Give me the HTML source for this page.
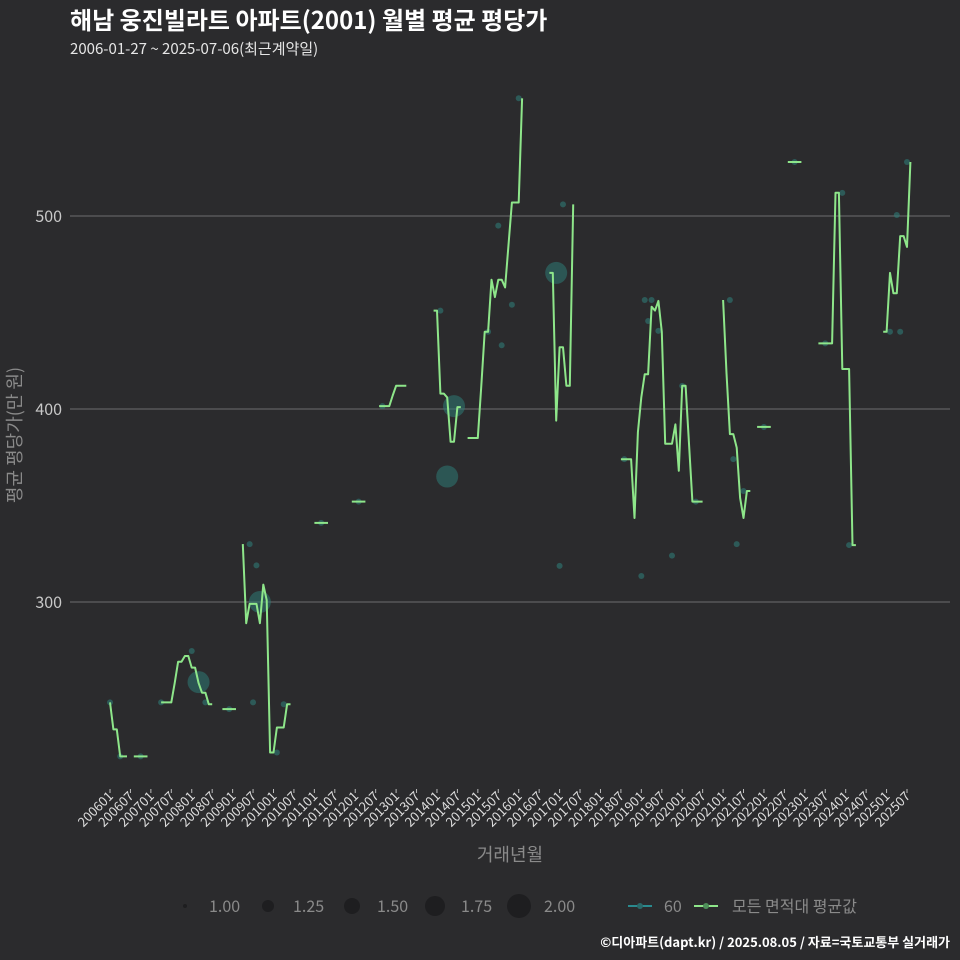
<!DOCTYPE html>
<html><head><meta charset="utf-8"><style>
html,body{margin:0;padding:0;background:#2b2b2d;}
body{position:relative;width:960px;height:960px;overflow:hidden;}
svg{display:block;font-family:"Noto Sans CJK KR","Liberation Sans",sans-serif;}
#ytitle{position:absolute;left:14px;top:435px;width:200px;margin-left:-100px;text-align:center;transform:rotate(-90deg);transform-origin:50% 50%;font-family:"Noto Sans CJK KR","Liberation Sans",sans-serif;font-size:18px;color:#8a8a8a;line-height:20px;margin-top:-10px;white-space:nowrap;}
</style></head><body>
<svg id="chart" width="960" height="960" viewBox="0 0 960 960">
<rect width="960" height="960" fill="#2b2b2d"/>
<text x="70" y="29" font-size="24" font-weight="bold" fill="#ffffff">해남 웅진빌라트 아파트(2001) 월별 평균 평당가</text>
<text x="70" y="54" font-size="15" fill="#e6e6e6">2006-01-27 ~ 2025-07-06(최근계약일)</text>
<text x="510" y="861" text-anchor="middle" font-size="18" fill="#8a8a8a">거래년월</text>
<g id="grid"></g><g id="yticks"></g><g id="xticks"></g><g id="points"></g><g id="lines"></g>
<g font-size="16" fill="#8a8a8a">
 <circle cx="185" cy="906" r="2" fill="#1e1e20"/>
 <text x="209" y="912">1.00</text>
 <circle cx="268" cy="906" r="6" fill="#1e1e20"/>
 <text x="293" y="912">1.25</text>
 <circle cx="352" cy="906" r="8" fill="#1e1e20"/>
 <text x="377" y="912">1.50</text>
 <circle cx="435" cy="906" r="10" fill="#1e1e20"/>
 <text x="461" y="912">1.75</text>
 <circle cx="519" cy="906" r="12" fill="#1e1e20"/>
 <text x="544" y="912">2.00</text>
 <line x1="628" y1="906" x2="652" y2="906" stroke="#2a8a8e" stroke-width="2"/>
 <circle cx="640" cy="906" r="3" fill="#2a6a6a"/>
 <text x="664" y="912">60</text>
 <line x1="694" y1="906" x2="718" y2="906" stroke="#8ee68a" stroke-width="2"/>
 <circle cx="706" cy="906" r="3" fill="#4f8f5a"/>
 <text x="732" y="912">모든 면적대 평균값</text>
</g>
<text x="950" y="947" text-anchor="end" font-size="13" font-weight="bold" fill="#ffffff">©디아파트(dapt.kr) / 2025.08.05 / 자료=국토교통부 실거래가</text>
</svg>
<div id="ytitle">평균 평당가(만 원)</div>
<script>
const yTicks=[300,400,500];
const xTickLabels=["200601","200607","200701","200707","200801","200807","200901","200907","201001","201007","201101","201107","201201","201207","201301","201307","201401","201407","201501","201507","201601","201607","201701","201707","201801","201807","201901","201907","202001","202007","202101","202107","202201","202207","202301","202307","202401","202407","202501","202507"];
// average line: month index from 2006-01 and values; null = gap
const lineMonths=[0,1,2,3,4,5,null,7,8,9,10,11,null,15,16,17,18,19,20,21,22,23,24,25,26,27,28,29,30,null,33,34,35,36,37,null,39,40,41,42,43,44,45,46,47,48,49,50,51,52,53,null,60,61,62,63,64,null,71,72,73,74,75,null,79,80,81,82,83,84,85,86,87,null,95,96,97,98,99,100,101,102,103,null,105,106,107,108,109,110,111,112,113,114,115,116,117,118,119,120,121,null,129,130,131,132,133,134,135,136,null,150,151,152,153,154,155,156,157,158,159,160,161,162,163,164,165,166,167,168,169,170,171,172,173,174,null,180,181,182,183,184,185,186,187,188,null,190,191,192,193,194,null,199,200,201,202,203,null,208,209,210,211,212,213,214,215,216,217,218,219,null,227,228,229,230,231,232,233,234,235];
const lineValues=[248,234,234,220,220,220,null,220,220,220,220,220,null,248,248,248,248,258,269,269,272,272,266,266,258,253,253,247,247,null,244.5,244.5,244.5,244.5,244.5,null,330,289,299,299,299,289,309,301,222,222,235,235,235,247,247,null,341,341,341,341,341,null,352,352,352,352,352,null,401.5,401.5,401.5,401.5,407,412,412,412,412,null,451,451,408,408,406,383,383,401,401,null,385,385,385,385,412,440,440,467,458,467,467,463,485,507,507,507,561,null,470.5,470.5,394,432,432,412,412,506,null,374,374,374,374,343.5,388,406,418,418,453,451,456,440,382,382,382,392,368,412,412,382,352,352,352,352,null,456.5,418.6,387,387,380,354,343.5,357.5,357.5,null,390.7,390.7,390.7,390.7,390.7,null,528,528,528,528,528,null,434,434,434,434,434,512,512,420.7,420.7,420.7,329.5,329.5,null,440,440,470.5,460,460,489.6,489.6,484,528];
// scatter of individual (60㎡) transactions
const pointMonths=[26,44,101,99,131,0,3,9,15,24,28,35,42,41,43,49,51,62,73,80,97,111,114,115,118,120,133,132,151,156,157,159,158,161,165,168,172,182,183,184,186,192,201,210,215,217,229,232,231,234];
const pointValues=[258.5,300,401.5,365,470.5,248,220,220,248,274.6,248,244.5,248,330,319,222,247,341,352,401.5,451,440,495,433,454,561,506,318.7,374,313.5,456.5,456.5,445.6,440.5,324,412,352,456.5,374,330,357.5,390.7,528,434,512,329.5,440,440,500.5,528];
const pointCounts=[2,2,2,2,2,1,1,1,1,1,1,1,1,1,1,1,1,1,1,1,1,1,1,1,1,1,1,1,1,1,1,1,1,1,1,1,1,1,1,1,1,1,1,1,1,1,1,1,1,1];

const NS="http://www.w3.org/2000/svg";
const X0=70,X1=950;
function xScale(m){return 110+m*(907-110)/234;}
function yScale(v){return 602-(v-300)*1.93;}
function rScale(c){return 3+(c-1)*8;}
function mk(tag,attrs,parent){const e=document.createElementNS(NS,tag);for(const k in attrs)e.setAttribute(k,attrs[k]);parent.appendChild(e);return e;}

const grid=document.getElementById('grid'),yt=document.getElementById('yticks');
yTicks.forEach(v=>{
 const l=mk('line',{x1:X0,x2:X1,y1:yScale(v),y2:yScale(v),stroke:'#6e6e70','stroke-width':1},grid);
 
 
 const t=mk('text',{x:62,y:yScale(v)+6,'text-anchor':'end','font-size':16,fill:'#c8c8c8'},yt);
 t.textContent=v;
 
 
});
const xt=document.getElementById('xticks');
xTickLabels.forEach((lab,i)=>{
 const x=xScale(i*6);
 const tk=mk('line',{x1:x,x2:x,y1:789,y2:793,stroke:'#bbbbbb','stroke-width':1},xt);
 
 
 const t=mk('text',{transform:`translate(${x+4},${797}) rotate(-45)`,'text-anchor':'end','font-size':13,fill:'#dddddd'},xt);
 t.textContent=lab;
 
 
});
const pg=document.getElementById('points');
pointMonths.forEach((m,i)=>{
 const c=mk('circle',{cx:xScale(m),cy:yScale(pointValues[i]),r:rScale(pointCounts[i]),fill:'#2e7a74','fill-opacity':pointCounts[i]>1?0.55:0.6},pg);
 
 
});
const lg=document.getElementById('lines');
let seg=[];
function flush(){
 if(seg.length){
  const p=mk('polyline',{points:seg.join(' '),fill:'none',stroke:'#8ee68a','stroke-width':2,'stroke-linejoin':'round'},lg);
  
  
 }
 seg=[];
}
lineMonths.forEach((m,i)=>{
 if(m===null||lineValues[i]===null){flush();return;}
 seg.push(xScale(m).toFixed(1)+','+yScale(lineValues[i]).toFixed(1));
});
flush();
</script>
</body></html>
